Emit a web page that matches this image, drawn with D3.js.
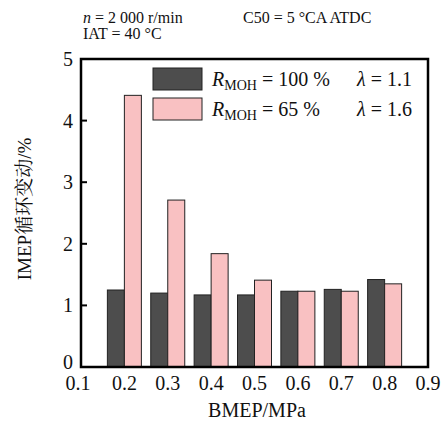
<!DOCTYPE html>
<html lang="zh">
<head>
  <meta charset="UTF-8">
  <title>IMEP cyclic variation</title>
  <style>
    body { margin: 0; background: #fff; }
    svg text { font-family: "Liberation Serif", "Times New Roman", "Noto Serif CJK SC", "Noto Sans CJK SC", serif; fill: #111; }
  </style>
</head>
<body>
  <svg id="chart"></svg>
  <script src="https://d3js.org/d3.v7.min.js"></script>
  <script>
    const categories = [0.2, 0.3, 0.4, 0.5, 0.6, 0.7, 0.8];
    const series100 = [1.25, 1.20, 1.17, 1.17, 1.23, 1.26, 1.42];
    const series65 = [4.41, 2.71, 1.84, 1.41, 1.23, 1.23, 1.35];
    const xTicks = [0.1, 0.2, 0.3, 0.4, 0.5, 0.6, 0.7, 0.8, 0.9];
    const yTicks = [0, 1, 2, 3, 4, 5];

    const W = 445, H = 424;
    const m = { left: 81, right: 17, top: 59, bottom: 57 };

    const svg = d3.select("#chart")
      .attr("width", W)
      .attr("height", H);

    const x = d3.scaleLinear()
      .domain([0.1, 0.9])
      .range([m.left, W - m.right]);

    const y = d3.scaleLinear()
      .domain([0, 5])
      .range([H - m.bottom, m.top]);

    const barW = 17;

    // bars
    svg.selectAll(".b100")
      .data(categories)
      .enter()
      .append("rect")
      .attr("x", d => x(d) - barW)
      .attr("y", (d, i) => y(series100[i]))
      .attr("width", barW)
      .attr("height", (d, i) => y(0) - y(series100[i]))
      .attr("fill", "#4d4d4d")
      .attr("stroke", "#222")
      .attr("stroke-width", 1);

    svg.selectAll(".b65")
      .data(categories)
      .enter()
      .append("rect")
      .attr("x", d => x(d))
      .attr("y", (d, i) => y(series65[i]))
      .attr("width", barW)
      .attr("height", (d, i) => y(0) - y(series65[i]))
      .attr("fill", "#f9c1c2")
      .attr("stroke", "#222")
      .attr("stroke-width", 1);

    // y ticks (inward)
    svg.selectAll(".yt")
      .data(yTicks.slice(1, -1))
      .enter()
      .append("line")
      .attr("x1", x(0.1))
      .attr("x2", x(0.1) + 6)
      .attr("y1", d => y(d))
      .attr("y2", d => y(d))
      .attr("stroke", "#000")
      .attr("stroke-width", 2);

    // frame
    svg.append("rect")
      .attr("x", x(0.1))
      .attr("y", y(5))
      .attr("width", x(0.9) - x(0.1))
      .attr("height", y(0) - y(5))
      .attr("fill", "none")
      .attr("stroke", "#000")
      .attr("stroke-width", 2.5);

    // tick labels
    svg.selectAll(".yl")
      .data(yTicks)
      .enter()
      .append("text")
      .attr("x", x(0.1) - 8)
      .attr("y", d => y(d) + (d === 0 ? 2 : 7))
      .attr("text-anchor", "end")
      .attr("font-size", 20)
      .text(d => d);

    svg.selectAll(".xl")
      .data(xTicks)
      .enter()
      .append("text")
      .attr("x", d => x(d) - (d === 0.1 ? 3 : 0))
      .attr("y", y(0) + 23)
      .attr("text-anchor", "middle")
      .attr("font-size", 20)
      .text(d => d.toFixed(1));

    // axis titles
    svg.append("text")
      .attr("x", 257)
      .attr("y", 417)
      .attr("text-anchor", "middle")
      .attr("font-size", 20)
      .text("BMEP/MPa");

    svg.append("text")
      .attr("transform", "translate(31,209) rotate(-90)")
      .attr("text-anchor", "middle")
      .attr("font-size", 19)
      .text("IMEP循环变动/%");

    // header notes
    const note1 = svg.append("text").attr("x", 83).attr("y", 23).attr("font-size", 16);
    note1.append("tspan").attr("font-style", "italic").text("n");
    note1.append("tspan").text(" = 2 000 r/min");
    svg.append("text").attr("x", 243).attr("y", 23).attr("font-size", 16).text("C50 = 5 °CA ATDC");
    svg.append("text").attr("x", 83).attr("y", 39).attr("font-size", 16).text("IAT = 40 °C");

    // legend
    const legend = [
      { fill: "#4d4d4d", r: "100 %", lam: "1.1" },
      { fill: "#f9c1c2", r: "65 %", lam: "1.6" }
    ];
    legend.forEach((d, i) => {
      const ly = 68 + i * 30;
      svg.append("rect")
        .attr("x", 153).attr("y", ly)
        .attr("width", 49).attr("height", 22)
        .attr("fill", d.fill).attr("stroke", "#222").attr("stroke-width", 1);
      const t = svg.append("text").attr("x", 212).attr("y", ly + 18).attr("font-size", 20);
      t.append("tspan").attr("font-style", "italic").text("R");
      t.append("tspan").attr("font-size", 14).attr("dy", 4).text("MOH");
      t.append("tspan").attr("dy", -4).text(" = " + d.r);
      const l = svg.append("text").attr("x", 357).attr("y", ly + 18).attr("font-size", 20);
      l.append("tspan").attr("font-style", "italic").text("λ");
      l.append("tspan").text(" = " + d.lam);
    });
  </script>
</body>
</html>
